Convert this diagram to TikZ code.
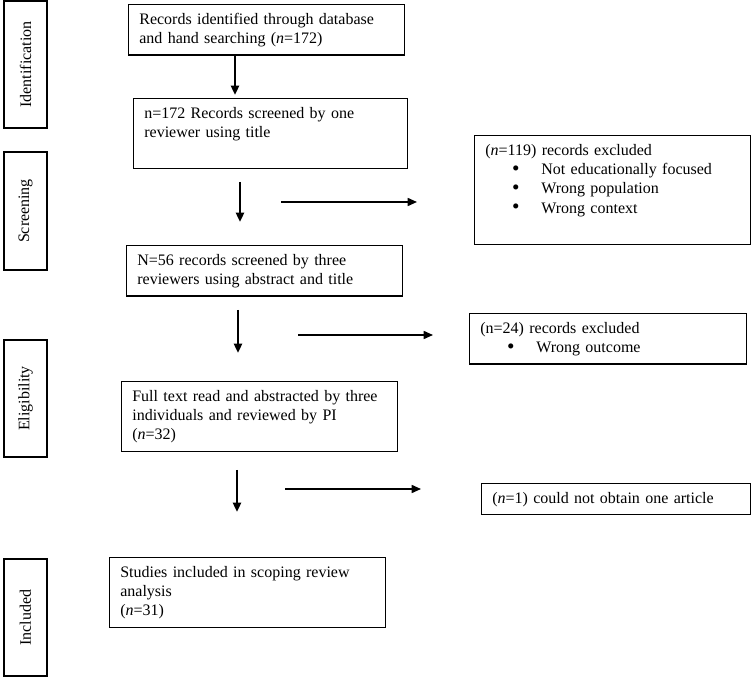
\documentclass[tikz,border=0pt]{standalone}
\usepackage{fontspec}
\setmainfont{Liberation Serif}
\usetikzlibrary{arrows.meta}

\tikzset{
  box/.style={draw, line width=1pt, anchor=north west, align=left,
    inner xsep=8pt, inner ysep=4.3pt, font=\fontsize{12}{14.6}\selectfont,
    execute at begin node=\strut, execute at end node=\strut},
  stage/.style={draw, line width=1pt, rotate=90, minimum height=32.25pt,
    inner sep=0pt, font=\fontsize{12}{14.6}\selectfont},
  down/.style={-{Triangle[length=7pt,width=6pt]}, line width=1.7pt},
  side/.style={-{Triangle[length=7pt,width=6pt]}, line width=1.2pt},
}
\newcommand{\exitem}[1]{\hspace*{20pt}\makebox[22pt][l]{\smash{\raisebox{-0.4pt}{\fontsize{16}{14.6}\selectfont\textbullet}}}#1}

\begin{document}
\begin{tikzpicture}[x=0.75pt, y=-0.75pt]
          \useasboundingbox (0,0) rectangle (751,677);
          \node [stage, minimum width=95.25pt] (ID) at (25.5, 64.5) {Identification};
          \node [stage, minimum width=88.5pt] (SC) at (25.5, 211) {Screening};
          \node [stage, minimum width=87.75pt] (EL) at (25.5, 398.5) {Eligibility};
          \node [stage, minimum width=87.75pt] (IN) at (25.5, 617.5) {Included};
          \node [box, text width=191pt] (B1) at (128, 4) {Records identified through database\\and hand searching (\textit{n}=172)};
          \node [box, text width=189.5pt] (B2) at (133, 98) {n=172 Records screened by one\\reviewer using title\\\mbox{}};
          \node [box, text width=191pt] (B3) at (126, 245) {N=56 records screened by three\\reviewers using abstract and title};
          \node [box, text width=191pt] (B4) at (121, 381) {Full text read and abstracted by three\\individuals and reviewed by PI\\(\textit{n}=32)};
          \node [box, text width=191pt] (B5) at (109, 557) {Studies included in scoping review\\analysis\\(\textit{n}=31)};
          \node [box, text width=191pt] (X1) at (474, 135) {(\textit{n}=119) records excluded\\\exitem{Not educationally focused}\\\exitem{Wrong population}\\\exitem{Wrong context}\\\mbox{}};
          \node [box, text width=191.75pt] (X2) at (469, 313) {(n=24) records excluded\\\exitem{Wrong outcome}};
          \node [box, text width=185.75pt] (X3) at (481, 483) {(\textit{n}=1) could not obtain one article};
          \coordinate (D1) at (235, 95);
          \coordinate (D2a) at (240, 182);
          \coordinate (D2b) at (240, 222);
          \coordinate (D3a) at (238, 310);
          \coordinate (D3b) at (238, 353);
          \coordinate (D4a) at (237, 470);
          \coordinate (D4b) at (237, 512);
          \coordinate (S1a) at (281, 202);
          \coordinate (S1b) at (417, 202);
          \coordinate (S2a) at (298, 335);
          \coordinate (S2b) at (433, 335);
          \coordinate (S3a) at (285, 489);
          \coordinate (S3b) at (421, 489);
          \draw [down] (B1.south -| D1) -- (D1);
          \draw [down] (D2a) -- (D2b);
          \draw [down] (D3a) -- (D3b);
          \draw [down] (D4a) -- (D4b);
          \draw [side] (S1a) -- (S1b);
          \draw [side] (S2a) -- (S2b);
          \draw [side] (S3a) -- (S3b);
\end{tikzpicture}
\end{document}
